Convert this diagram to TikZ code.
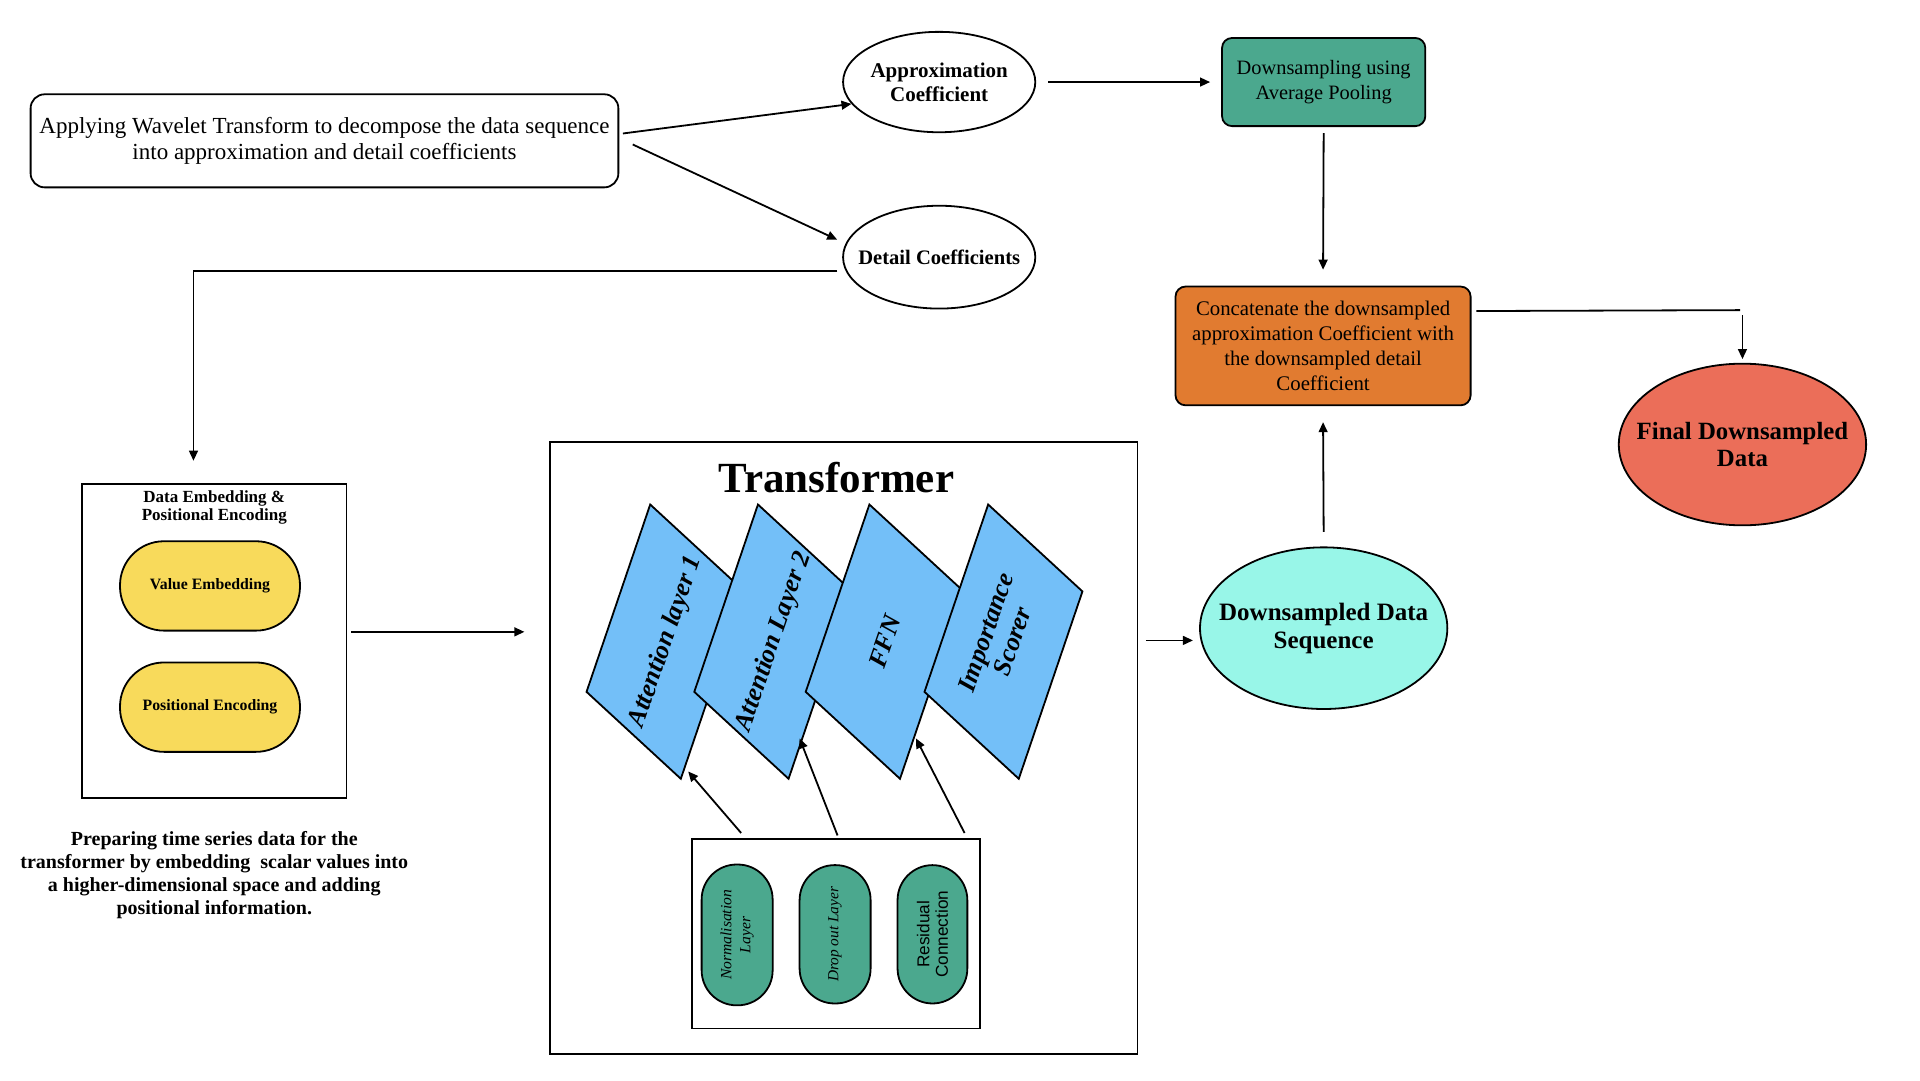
\documentclass[tikz,border=0pt]{standalone}
\usepackage{fontspec}
\setmainfont{Liberation Serif}
\setsansfont{Liberation Sans}
\usetikzlibrary{shapes.geometric,arrows.meta,calc}
\definecolor{tealc}{HTML}{4BA88E}
\definecolor{orangec}{HTML}{E17B30}
\definecolor{redc}{HTML}{EB6E59}
\definecolor{cyanc}{HTML}{98F6E8}
\definecolor{yelc}{HTML}{F8DA5B}
\definecolor{bluec}{HTML}{73BFF8}
\def\uu{0.6123pt}
\begin{document}
\begin{tikzpicture}[x=0.6123pt,y=-0.6123pt,
  lw/.style={line width=0.9pt},
  arr/.style={line width=0.9pt,-{Triangle[length=5pt,width=4.4pt]}},
  rbox/.style={draw,line width=0.9pt,align=center,inner sep=0pt},
  ell/.style={draw,ellipse,line width=0.9pt,inner sep=0pt},
  etext/.style={align=center,inner sep=0pt},
  plainbox/.style={draw,line width=0.9pt,inner sep=0pt},
  para/.style={draw,fill=bluec,line width=0.9pt,line join=miter},
  ptext/.style={font=\bfseries\itshape\fontsize{13}{14}\selectfont,align=center,rotate=71},
  stad/.style={draw,fill=yelc,line width=0.9pt,inner sep=0pt,minimum width=147*\uu,minimum height=73*\uu,rounded corners=22pt,font=\bfseries\fontsize{7.9}{9}\selectfont},
  vstad/.style={draw,fill=tealc,line width=0.9pt,inner sep=0pt,rotate=90,minimum width=113*\uu,minimum height=58*\uu,rounded corners=17.5pt,align=center}
]
\useasboundingbox (0,0) rectangle (1568,882);

% top row
\node[rbox,minimum width=480*\uu,minimum height=76*\uu,rounded corners=7pt,font=\fontsize{11.5}{12.9}\selectfont] (wav) at (265,115)
  {Applying Wavelet Transform to decompose the data sequence\\into approximation and detail coefficients};
\node[ell,minimum width=157*\uu,minimum height=82*\uu] (app) at (767,67) {};
\node[etext,font=\bfseries\fontsize{10.5}{12.2}\selectfont] (appt) at (app.center) {Approximation\\Coefficient};
\node[ell,minimum width=157*\uu,minimum height=84*\uu] (det) at (767,210) {};
\node[etext,font=\bfseries\fontsize{10.3}{12.2}\selectfont] (dett) at (det.center) {Detail Coefficients};
\node[rbox,fill=tealc,minimum width=166*\uu,minimum height=72*\uu,rounded corners=5pt,font=\fontsize{10.2}{12.2}\selectfont] (pool) at (1081,67) {Downsampling using\\Average Pooling};
\node[rbox,fill=orangec,minimum width=241*\uu,minimum height=97*\uu,rounded corners=5pt,font=\fontsize{10.4}{12.4}\selectfont] (cat) at (1080.5,282.5)
  {Concatenate the downsampled\\approximation Coefficient with\\the downsampled detail\\Coefficient};
\node[ell,fill=redc,minimum width=202*\uu,minimum height=132*\uu] (fin) at (1423,363) {};
\node[etext,font=\bfseries\fontsize{12.4}{13.6}\selectfont] (fint) at (fin.center) {Final Downsampled\\Data};
\node[ell,fill=cyanc,minimum width=202*\uu,minimum height=132*\uu] (dseq) at (1081,513) {};
\node[etext,font=\bfseries\fontsize{12.5}{14}\selectfont] (dseqt) at (dseq.center) {Downsampled Data\\Sequence};

% embedding block
\node[plainbox,minimum width=216*\uu,minimum height=257*\uu] (emb) at (175,523.5) {};
\node[font=\bfseries\fontsize{8.5}{9.3}\selectfont,align=center] (embt) at (175,414.5) {Data Embedding \&\\Positional Encoding};
\node[stad] (ve) at (171.5,478.5) {Value Embedding};
\node[stad] (pe) at (171.5,577.5) {Positional Encoding};
\node[font=\bfseries\fontsize{10}{11.6}\selectfont,align=center] (cap) at (175,714.5)
  {Preparing time series data for the\\transformer by embedding~ scalar values into\\a higher-dimensional space and adding\\positional information.};

% transformer block
\node[plainbox,minimum width=480*\uu,minimum height=500*\uu] (tr) at (689,611) {};
\node[font=\bfseries\fontsize{21.5}{24}\selectfont] (trt) at (683,390) {Transformer};
\foreach \x in {531,619,710,807}{
  \filldraw[para] (\x,412) -- ++(77,71) -- ++(-52,153) -- ++(-77,-71) -- cycle;
}
\node[ptext] (p1) at (544,524) {Attention layer 1};
\node[ptext] (p2) at (632,524) {Attention Layer 2};
\node[ptext] (p3) at (722.5,524) {FFN};
\node[ptext] (p4) at (816,520) {Importance\\Scorer};
\coordinate (e1) at (562,630);
\coordinate (e2) at (653,603);
\coordinate (e3) at (748,603);

\node[plainbox,minimum width=235*\uu,minimum height=155*\uu] (sub) at (682.5,762.5) {};
\node[vstad,minimum width=115*\uu,font=\itshape\fontsize{7.8}{9.6}\selectfont] (nl) at (602,763.5) {Normalisation\\Layer};
\node[vstad,font=\itshape\fontsize{7.7}{9}\selectfont] (do) at (682,763) {Drop out Layer};
\node[vstad,minimum height=57*\uu,font=\sffamily\fontsize{8.6}{9.3}\selectfont] (rc) at (761.5,763) {Residual\\Connection};

% connectors
\draw[arr] ($(wav.east)+(3,-6)$) -- (app.194);
\draw[arr] ($(wav.east)+(11,3)$) -- ($(det.170)+(-8,-1)$);
\draw[arr] ($(app.east)+(10,0)$) -- ($(pool.west)+(-9,0)$);
\draw[arr] ($(pool.south)+(0,5)$) -- ($(cat.north)+(0,-13)$);
\draw[arr] ($(det.west)+(-4,11)$) -| ($(emb.north)+(-17,-18)$);
\draw[arr] ($(emb.east)+(3,-7.5)$) -- ($(tr.west)+(-20,-95)$);
\draw[arr] ($(tr.east)+(6,-88)$) -- ($(dseq.west)+(-5,10)$);
\draw[arr] ($(dseq.north)+(0,-12)$) -- ($(cat.south)+(0,13)$);
\coordinate (k) at ($(fin.north)+(-2,-43)$);
\draw[lw] ($(cat.east)+(4,-28.5)$) -- (k);
\draw[arr] ($(fin.north)+(0,-39)$) -- ($(fin.north)+(0,-3)$);
\draw[arr] ($(sub.north west)+(41,-4)$) -- (e1);
\draw[arr] ($(sub.north)+(1.5,-2)$) -- (e2);
\draw[arr] ($(sub.north east)+(-13,-4)$) -- (e3);
\end{tikzpicture}
\end{document}
